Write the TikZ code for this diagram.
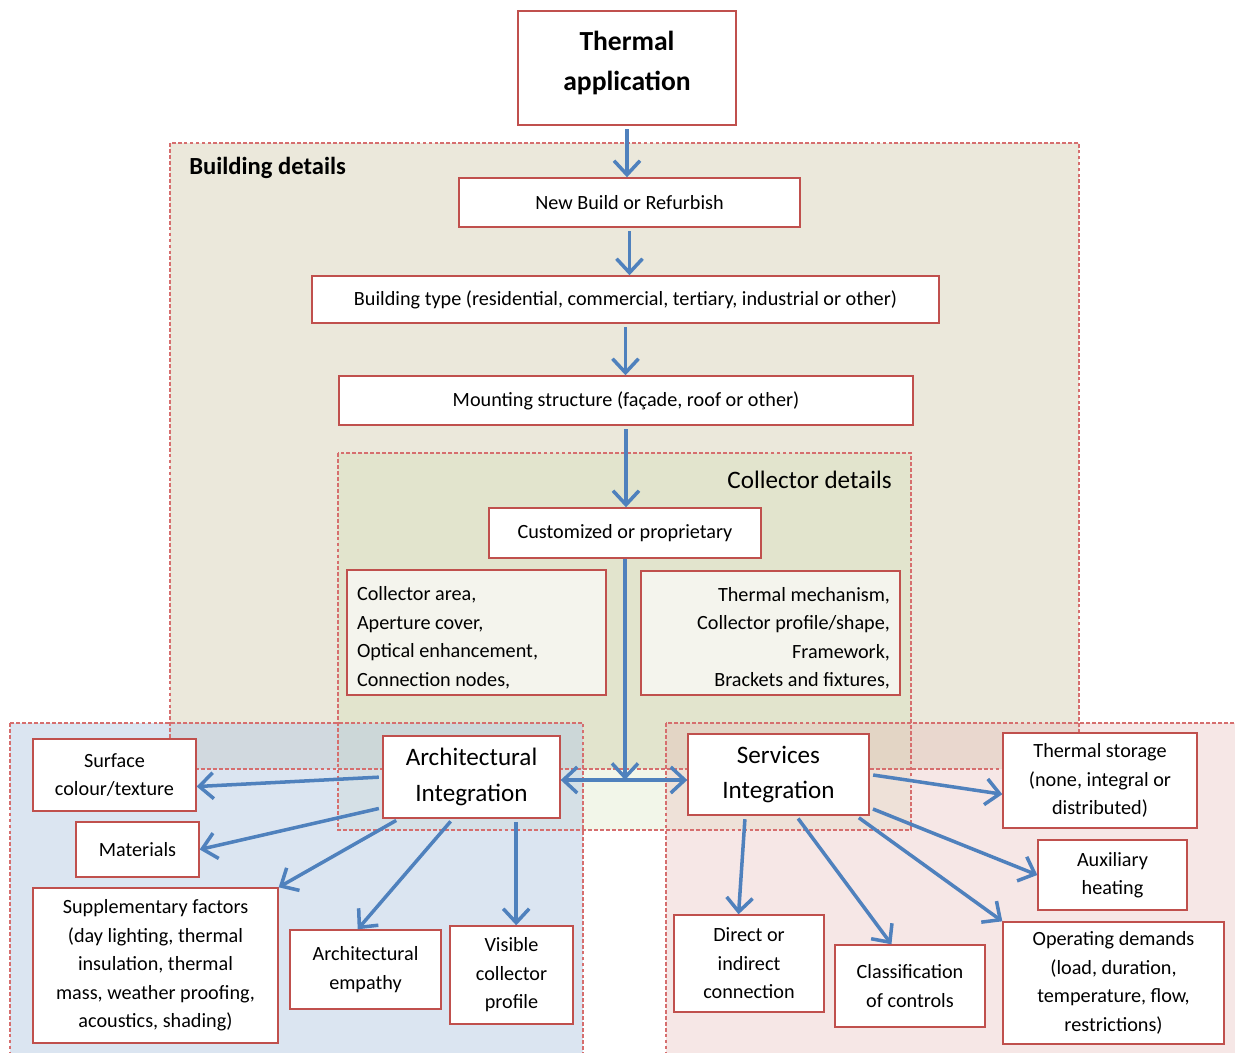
\documentclass[tikz,border=0pt]{standalone}
\usepackage{fontspec}
\setmainfont{Carlito}
\usetikzlibrary{arrows.meta}
\definecolor{boxred}{RGB}{192,80,77}
\definecolor{dashred}{RGB}{214,110,110}
\definecolor{arrowblue}{RGB}{79,129,189}
\definecolor{bldtan}{RGB}{221,217,195}
\definecolor{colgreen}{RGB}{196,215,155}
\definecolor{archblue}{RGB}{184,204,228}
\definecolor{servpink}{RGB}{230,185,184}
\definecolor{listfill}{RGB}{244,244,237}
\tikzset{
  box/.style={draw=boxred, line width=0.8pt, fill=white, align=center, inner sep=2pt, font=\fontsize{11.5}{16.2}\selectfont},
  listbox/.style={box, fill=listfill, text width=4.78cm, inner xsep=0.2cm},
  region/.style={draw=dashred, line width=1pt, dash pattern=on 2.2pt off 1.2pt},
  flow/.style={draw=arrowblue, line width=2pt, -{Straight Barb[length=2.8mm,width=5.2mm]}, shorten <=2pt},
}
\begin{document}
\begin{tikzpicture}[x=0.02cm, y=-0.02cm]
\useasboundingbox (0,0) rectangle (1235,1053);
\clip (0,0) rectangle (1235,1053);
% shaded groups
\fill[bldtan, opacity=0.6] (170,143) rectangle (1079,769);
\fill[colgreen, opacity=0.22] (338,453) rectangle (911,830);
\fill[archblue, opacity=0.5] (10,723) rectangle (583,1060);
\fill[servpink, opacity=0.35] (666,723) rectangle (1240,1060);
\draw[region] (170,143) rectangle (1079,769);
\draw[region] (338,453) rectangle (911,830);
\draw[region] (10,723) rectangle (583,1060);
\draw[region] (666,723) rectangle (1240,1060);
\node[font=\fontsize{14}{16}\selectfont\bfseries, anchor=west, inner sep=0pt] (bldlabel) at (189,168) {Building details};
\node[font=\fontsize{14.3}{16}\selectfont, anchor=east, inner sep=0pt] (collabel) at (892,480) {Collector details};
% main chain
\node[box, minimum width=4.36cm, minimum height=2.28cm, font=\fontsize{15.7}{22.8}\selectfont\bfseries] (therm) at (627,68) {Thermal\\application\\[-15pt]\mbox{}};
\node[box, minimum width=6.82cm, minimum height=0.98cm] (newbuild) at (629.5,202.5) {New Build or Refurbish};
\node[box, minimum width=12.54cm, minimum height=0.94cm] (btype) at (625.5,299.5) {Building type (residential, commercial, tertiary, industrial or other)};
\node[box, minimum width=11.48cm, minimum height=0.98cm] (mount) at (626,400.5) {Mounting structure (façade, roof or other)};
\node[box, minimum width=5.44cm, minimum height=1cm] (custom) at (625,533) {Customized or proprietary};
\node[listbox, align=flush left, minimum height=2.5cm] (leftlist) at (476.5,632.5) {\mbox{}\\[-2pt]Collector area,\\Aperture cover,\\Optical enhancement,\\Connection nodes,};
\node[listbox, align=flush right, minimum height=2.48cm] (rightlist) at (770.5,633) {\mbox{}\\[-2pt]Thermal mechanism,\\Collector profile/shape,\\Framework,\\Brackets and fixtures,};
% architectural side
\node[box, minimum width=3.54cm, minimum height=1.64cm, font=\fontsize{14.3}{20}\selectfont] (arch) at (471.5,777) {Architectural\\Integration};
\node[box, minimum width=3.26cm, minimum height=1.44cm] (surface) at (114.5,775) {Surface\\colour/texture};
\node[box, minimum width=2.46cm, minimum height=1.1cm] (materials) at (137.5,849.5) {Materials};
\node[box, minimum width=4.9cm, minimum height=3.1cm] (supp) at (155.5,965.5) {Supplementary factors\\(day lighting, thermal\\insulation, thermal\\mass, weather proofing,\\acoustics, shading)};
\node[box, minimum width=3.02cm, minimum height=1.58cm] (archemp) at (365.5,969.5) {Architectural\\empathy};
\node[box, minimum width=2.46cm, minimum height=1.96cm] (visible) at (511.5,975) {Visible\\collector\\profile};
% services side
\node[box, minimum width=3.62cm, minimum height=1.62cm, font=\fontsize{14.3}{20}\selectfont] (serv) at (778.5,774.5) {Services\\Integration};
\node[box, minimum width=3cm, minimum height=1.94cm] (direct) at (749,963.5) {Direct or\\indirect\\connection};
\node[box, minimum width=3cm, minimum height=1.64cm] (classif) at (910,986) {Classification\\of controls};
\node[box, minimum width=3.88cm, minimum height=1.9cm] (thermstor) at (1100,780.5) {Thermal storage\\(none, integral or\\distributed)};
\node[box, minimum width=2.98cm, minimum height=1.4cm] (aux) at (1112.5,875) {Auxiliary\\heating};
\node[box, minimum width=4.42cm, minimum height=2.44cm] (opdem) at (1113.5,983) {Operating demands\\(load, duration,\\temperature, flow,\\restrictions)};
% arrows
\coordinate (junc) at (625,780);
\draw[flow] (therm.south) -- (therm.south |- newbuild.north);
\draw[flow] (newbuild.south) -- (newbuild.south |- btype.north);
\draw[flow] (btype.south) -- (btype.south |- mount.north);
\draw[flow] (mount.south) -- (mount.south |- custom.north);
\draw[flow, shorten <=0pt] (custom.south) -- (junc);
\draw[flow, shorten <=0pt, {Straight Barb[length=2.8mm,width=5.2mm]}-{Straight Barb[length=2.8mm,width=5.2mm]}] (arch.east |- junc) -- (serv.west |- junc);
\draw[flow] (arch.west) -- (surface.-8);
\draw[flow] (arch.199) -- (materials.east);
\draw[flow] (arch.210) -- (supp.north east);
\draw[flow] (arch.246) -- (archemp.101);
\draw[flow] (arch.-43) -- (arch.-43 |- visible.north);
\draw[flow] (serv.east) -- (thermstor.188);
\draw[flow] (serv.-20) -- (aux.west);
\draw[flow] (serv.-28) -- (opdem.north west);
\draw[flow] (serv.-67) -- (classif.114);
\draw[flow] (serv.231) -- (direct.102);
\end{tikzpicture}
\end{document}
